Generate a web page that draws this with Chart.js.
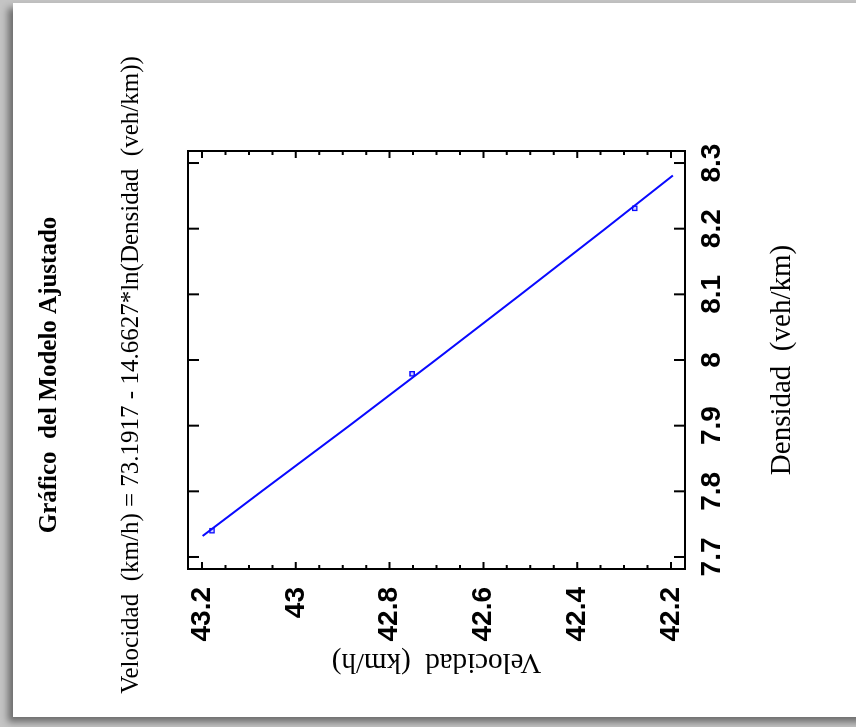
<!DOCTYPE html>
<html>
<head>
<meta charset="utf-8">
<script src="https://cdn.jsdelivr.net/npm/chart.js@4.4.1/dist/chart.umd.min.js"></script>
<style>
  html, body { margin: 0; padding: 0; }
  body { width: 856px; height: 727px; background: #c4c4c4; position: relative; overflow: hidden; }
  #panel { position: absolute; left: 13px; top: 3px; width: 860px; height: 714px; background: #fff;
           box-shadow: -5px 5px 7px rgba(0,0,0,0.45); }
  #plot { position: absolute; left: 0; top: 0; transform-origin: 0 0; transform: translate(0, 727px) rotate(-90deg); }
</style>
</head>
<body>
<div id="panel"></div>
<canvas id="plot" width="727" height="856"></canvas>
<script>
const densidadObs = [7.740, 7.979, 8.231];
const velocidadObs = [43.179, 42.752, 42.277];

// Fitted curve, sampled along the drawn line
const densidadFit = [7.732, 7.80, 7.90, 8.00, 8.10, 8.20, 8.281];
const velocidadFit = [43.199, 43.073, 42.886, 42.702, 42.520, 42.340, 42.196];

// Axes
const densidadTicks = [7.7, 7.8, 7.9, 8.0, 8.1, 8.2, 8.3];
const velocidadTicks = [42.2, 42.4, 42.6, 42.8, 43.0, 43.2];
const velocidadMinor = [42.25, 42.3, 42.35, 42.45, 42.5, 42.55, 42.65, 42.7, 42.75,
                        42.85, 42.9, 42.95, 43.05, 43.1, 43.15];
const densidadRange = [7.6817, 8.3183];
const velocidadRange = [42.170, 43.230];

const tituloTexto = 'Gráfico  del Modelo Ajustado';
const subtituloTexto = 'Velocidad  (km/h) = 73.1917 - 14.6627*ln(Densidad  (veh/km))';
const ejeX = 'Densidad  (veh/km)';
const ejeY = 'Velocidad  (km/h)';

const serif = "'Liberation Serif', 'Times New Roman', serif";
const sansNarrow = "'Liberation Sans Narrow', 'Arial Narrow', 'Liberation Sans', Arial, sans-serif";

function fmt(v) { return String(Number(v.toFixed(2))); }

// frame + inward tick marks on all four sides
const framePlugin = {
    id: 'frame',
    beforeDatasetsDraw(chart) {
        const { ctx, chartArea: a, scales } = chart;
        const x = scales.x, y = scales.y;
        ctx.save();
        ctx.strokeStyle = '#000';
        ctx.lineWidth = 2;
        ctx.strokeRect(a.left, a.top, a.right - a.left, a.bottom - a.top);
        ctx.beginPath();
        densidadTicks.forEach(v => {
            const px = x.getPixelForValue(v);
            ctx.moveTo(px, a.bottom); ctx.lineTo(px, a.bottom - 11);
            ctx.moveTo(px, a.top); ctx.lineTo(px, a.top + 11);
        });
        velocidadTicks.forEach(v => {
            const py = y.getPixelForValue(v);
            ctx.moveTo(a.left, py); ctx.lineTo(a.left + 7, py);
            ctx.moveTo(a.right, py); ctx.lineTo(a.right - 7, py);
        });
        velocidadMinor.forEach(v => {
            const py = y.getPixelForValue(v);
            ctx.moveTo(a.left, py); ctx.lineTo(a.left + 4, py);
            ctx.moveTo(a.right, py); ctx.lineTo(a.right - 4, py);
        });
        ctx.stroke();
        ctx.restore();
    }
};

const ctx = document.getElementById('plot').getContext('2d');
new Chart(ctx, {
    type: 'scatter',
    data: {
        datasets: [
            {
                type: 'line',
                data: densidadFit.map((d, i) => ({ x: d, y: velocidadFit[i] })),
                borderColor: '#0a0aff',
                borderWidth: 2,
                pointRadius: 0,
                tension: 0,
                fill: false
            },
            {
                data: densidadObs.map((d, i) => ({ x: d, y: velocidadObs[i] })),
                pointStyle: 'rect',
                pointRadius: 3,
                borderColor: '#0a0aff',
                borderWidth: 1.3,
                backgroundColor: 'rgba(120,120,255,0.35)'
            }
        ]
    },
    options: {
        responsive: false,
        animation: false,
        layout: { padding: { left: 0, top: 0, bottom: 0, right: 23 } },
        plugins: {
            legend: { display: false },
            tooltip: { enabled: false },
            title: {
                display: true,
                text: tituloTexto,
                color: '#000',
                font: { family: serif, size: 25, weight: 'bold', lineHeight: 1.2 },
                padding: { top: 35, bottom: 0 }
            },
            subtitle: {
                display: true,
                text: subtituloTexto,
                color: '#000',
                font: { family: serif, size: 25, weight: 'normal', lineHeight: 1.2 },
                padding: { top: 51, bottom: 42 }
            }
        },
        scales: {
            x: {
                type: 'linear',
                position: 'bottom',
                min: densidadRange[0],
                max: densidadRange[1],
                afterBuildTicks: s => { s.ticks = densidadTicks.map(v => ({ value: v })); },
                afterFit: s => { s.height = 171; },
                grid: { display: false, drawTicks: false },
                border: { display: false },
                ticks: {
                    color: '#000',
                    padding: 10,
                    maxRotation: 0, minRotation: 0, autoSkip: false,
                    font: { family: sansNarrow, size: 28, weight: 'bold', lineHeight: 1.2 },
                    callback: v => fmt(v)
                },
                title: {
                    display: true,
                    text: ejeX,
                    color: '#000',
                    font: { family: serif, size: 29, lineHeight: 1.2 },
                    padding: { top: 0, bottom: 56 }
                }
            },
            y: {
                type: 'linear',
                position: 'left',
                min: velocidadRange[0],
                max: velocidadRange[1],
                afterBuildTicks: s => { s.ticks = velocidadTicks.map(v => ({ value: v })); },
                afterFit: s => { s.width = 158; },
                grid: { display: false, drawTicks: false },
                border: { display: false },
                ticks: {
                    color: '#000',
                    padding: 18,
                    autoSkip: false,
                    font: { family: sansNarrow, size: 28, weight: 'bold', lineHeight: 1.2 },
                    callback: v => fmt(v)
                },
                title: {
                    display: true,
                    text: ejeY,
                    color: '#000',
                    font: { family: serif, size: 29, lineHeight: 1.2 },
                    padding: { top: 48, bottom: 0 }
                }
            },
            yRight: {
                type: 'linear',
                position: 'right',
                min: velocidadRange[0],
                max: velocidadRange[1],
                afterFit: s => { s.width = 128; },
                grid: { display: false, drawTicks: false },
                border: { display: false },
                ticks: { display: false }
            }
        }
    },
    plugins: [framePlugin]
});
</script>
</body>
</html>
